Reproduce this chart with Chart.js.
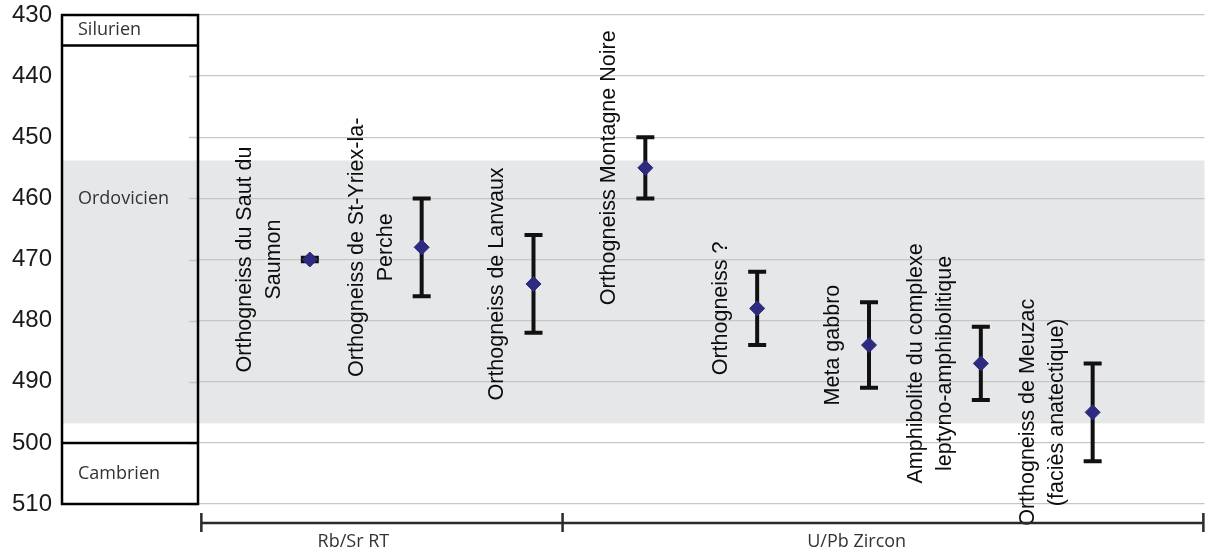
<!DOCTYPE html>
<html>
<head>
<meta charset="utf-8">
<script src="https://cdn.jsdelivr.net/npm/chart.js@4"></script>
<style>
    html, body { margin: 0; padding: 0; background: #ffffff; }
    #wrap { width: 1213px; height: 554px; position: relative; }
</style>
</head>
<body>
<div id="wrap"><canvas id="agesChart"></canvas></div>
<script>
// ── Data ─────────────────────────────────────────────────────────────────────
const sampleLabels = [
    ['Orthogneiss du Saut du', 'Saumon'],
    ['Orthogneiss de St-Yriex-la-', 'Perche'],
    ['Orthogneiss de Lanvaux'],
    ['Orthogneiss Montagne Noire'],
    ['Orthogneiss ?'],
    ['Meta gabbro'],
    ['Amphibolite du complexe', 'leptyno-amphibolitique'],
    ['Orthogneiss de Meuzac', '(faciès anatectique)']
];
const samplePos = [1, 2, 3, 4, 5, 6, 7, 8];
const ages      = [470, 468, 474, 455, 478, 484, 487, 495];
const ageLow    = [469.7, 460, 466, 450, 472, 477, 481, 487];
const ageHigh   = [470.3, 476, 482, 460, 484, 491, 493, 503];

const yTicks = [430, 440, 450, 460, 470, 480, 490, 500, 510];

const periods        = ['Silurien', 'Ordovicien', 'Cambrien'];
const periodBounds   = [430, 435, 500, 510];
const periodLabelAge = [432.5, 460, 505];

const bandRange = [453.8, 496.8];

const methods       = ['Rb/Sr RT', 'U/Pb Zircon'];
const methodEdges   = [0.03, 3.26, 8.99];
const methodLabelAt = [1.39, 5.89];

// ── Styles ───────────────────────────────────────────────────────────────────
const AXIS_WIDTH = 198;
const BOX_LEFT = 62;
const LABEL_X = 52;
const GRID_COLOR = '#c6c6c6';
const LABEL_FONT = '21.5px Arial, "Liberation Sans", sans-serif';
const SMALL_FONT = '18px "Open Sans", "Noto Sans", sans-serif';

// ── Plugin: band, error bars, labels, period box, method bracket ─────────────
const decorPlugin = {
    id: 'decor',
    beforeDraw(chart) {
        const { ctx, chartArea, scales: { y } } = chart;
        ctx.save();
        ctx.fillStyle = '#ffffff';
        ctx.fillRect(0, 0, chart.width, chart.height);
        const top = y.getPixelForValue(bandRange[0]);
        const bottom = y.getPixelForValue(bandRange[1]);
        ctx.fillStyle = '#e6e7e8';
        ctx.fillRect(BOX_LEFT, top, chartArea.right - BOX_LEFT, bottom - top);
        ctx.restore();
    },
    beforeDatasetsDraw(chart) {
        const { ctx, chartArea, scales: { x, y } } = chart;
        ctx.save();

        // short grid stubs reaching into the box
        ctx.strokeStyle = GRID_COLOR;
        ctx.lineWidth = 1.3;
        ctx.beginPath();
        yTicks.forEach(v => {
            const py = Math.round(y.getPixelForValue(v)) + 0.5;
            ctx.moveTo(chartArea.left - 9, py);
            ctx.lineTo(chartArea.left, py);
        });
        ctx.stroke();

        // error bars
        ctx.strokeStyle = '#111111';
        ctx.lineCap = 'butt';
        samplePos.forEach((p, i) => {
            const px = x.getPixelForValue(p);
            const lo = y.getPixelForValue(ageLow[i]);
            const hi = y.getPixelForValue(ageHigh[i]);
            ctx.lineWidth = 4;
            ctx.beginPath();
            ctx.moveTo(px, lo);
            ctx.lineTo(px, hi);
            ctx.stroke();
            ctx.beginPath();
            ctx.moveTo(px - 9, lo);
            ctx.lineTo(px + 9, lo);
            ctx.moveTo(px - 9, hi);
            ctx.lineTo(px + 9, hi);
            ctx.stroke();
        });
        ctx.restore();
    },
    afterDatasetsDraw(chart) {
        const { ctx, chartArea, scales: { x, y } } = chart;
        ctx.save();

        // rotated sample labels, left of each point
        ctx.font = LABEL_FONT;
        ctx.fillStyle = '#0d0d0d';
        ctx.textAlign = 'center';
        ctx.textBaseline = 'middle';
        samplePos.forEach((p, i) => {
            const px = x.getPixelForValue(p);
            const py = y.getPixelForValue(ages[i]);
            const lines = sampleLabels[i];
            lines.forEach((line, j) => {
                const cx = px - 36 - (lines.length - 1 - j) * 29;
                ctx.save();
                ctx.translate(cx, py);
                ctx.rotate(-Math.PI / 2);
                ctx.fillText(line, 0, 0);
                ctx.restore();
            });
        });

        // stratigraphic box
        const boxRight = chartArea.left;
        ctx.strokeStyle = '#000000';
        ctx.lineWidth = 2.5;
        const yTop = y.getPixelForValue(periodBounds[0]);
        const yBot = y.getPixelForValue(periodBounds[periodBounds.length - 1]);
        ctx.strokeRect(BOX_LEFT, yTop, boxRight - BOX_LEFT, yBot - yTop);
        ctx.beginPath();
        periodBounds.slice(1, -1).forEach(b => {
            const py = y.getPixelForValue(b);
            ctx.moveTo(BOX_LEFT, py);
            ctx.lineTo(boxRight + 1, py);
        });
        ctx.stroke();

        ctx.font = SMALL_FONT;
        ctx.fillStyle = '#333333';
        ctx.textAlign = 'left';
        ctx.textBaseline = 'middle';
        periods.forEach((name, i) => {
            ctx.fillText(name, BOX_LEFT + 16, y.getPixelForValue(periodLabelAge[i]));
        });

        // method bracket under the plot
        const lineY = chartArea.bottom + 19;
        ctx.strokeStyle = '#2a2a2a';
        ctx.lineWidth = 2.5;
        ctx.beginPath();
        ctx.moveTo(x.getPixelForValue(methodEdges[0]), lineY);
        ctx.lineTo(x.getPixelForValue(methodEdges[methodEdges.length - 1]), lineY);
        methodEdges.forEach(e => {
            const ex = x.getPixelForValue(e);
            ctx.moveTo(ex, lineY - 10);
            ctx.lineTo(ex, lineY + 9);
        });
        ctx.stroke();

        ctx.fillStyle = '#333333';
        ctx.textAlign = 'center';
        methods.forEach((m, i) => {
            ctx.fillText(m, x.getPixelForValue(methodLabelAt[i]), lineY + 19);
        });

        ctx.restore();
    }
};

// ── Chart ────────────────────────────────────────────────────────────────────
new Chart(document.getElementById('agesChart'), {
    type: 'scatter',
    data: {
        datasets: [{
            data: samplePos.map((p, i) => ({ x: p, y: ages[i] })),
            pointStyle: 'rectRot',
            pointRadius: 7.5,
            pointBackgroundColor: '#2e2a80',
            pointBorderColor: '#2e2a80',
            pointBorderWidth: 1,
            showLine: false
        }]
    },
    options: {
        responsive: true,
        maintainAspectRatio: false,
        animation: false,
        layout: { padding: { left: 0, right: 0, top: 15, bottom: 50 } },
        plugins: {
            legend: { display: false },
            tooltip: { enabled: false }
        },
        scales: {
            x: {
                type: 'linear',
                min: 0,
                max: 9,
                display: false
            },
            y: {
                type: 'linear',
                reverse: true,
                min: yTicks[0],
                max: yTicks[yTicks.length - 1],
                afterFit: scale => { scale.width = AXIS_WIDTH; },
                afterBuildTicks: scale => { scale.ticks = yTicks.map(v => ({ value: v })); },
                border: { display: false },
                grid: {
                    color: GRID_COLOR,
                    lineWidth: 1.3,
                    drawTicks: true,
                    tickLength: AXIS_WIDTH - LABEL_X,
                    tickColor: 'rgba(0,0,0,0)'
                },
                ticks: {
                    padding: 0,
                    color: '#1a1a1a',
                    font: { family: 'Arial, "Liberation Sans", sans-serif', size: 24 }
                }
            }
        }
    },
    plugins: [decorPlugin]
});
</script>
</body>
</html>
